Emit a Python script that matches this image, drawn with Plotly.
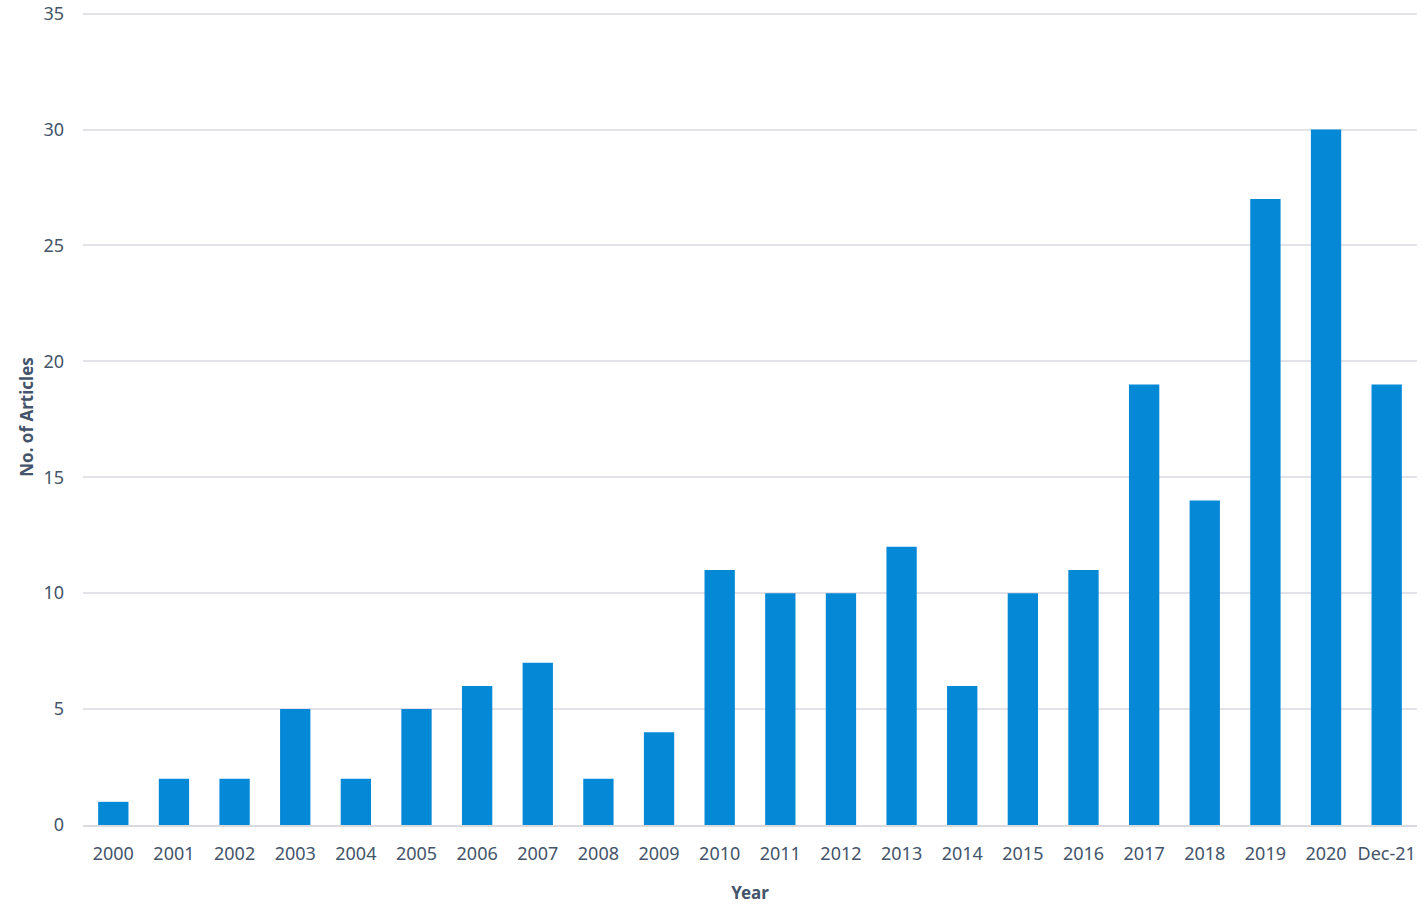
import plotly.graph_objects as go

years = ["2000", "2001", "2002", "2003", "2004", "2005", "2006", "2007", "2008", "2009",
         "2010", "2011", "2012", "2013", "2014", "2015", "2016", "2017", "2018", "2019",
         "2020", "Dec-21"]
articles = [1, 2, 2, 5, 2, 5, 6, 7, 2, 4, 11, 10, 10, 12, 6, 10, 11, 19, 14, 27, 30, 19]

y_ticks = [0, 5, 10, 15, 20, 25, 30, 35]

text_color = "#44546A"
font_family = "Noto Sans, sans-serif"

fig = go.Figure()
fig.add_trace(go.Bar(
    x=years,
    y=articles,
    marker=dict(color="#0588D6", line=dict(width=0)),
    width=0.5,
))

fig.update_layout(
    width=1423,
    height=913,
    paper_bgcolor="white",
    plot_bgcolor="white",
    margin=dict(l=83, r=6, t=9, b=88),
    showlegend=False,
    font=dict(family=font_family, size=18, color=text_color),
    xaxis=dict(
        title=dict(text="<b>Year</b>", font=dict(family=font_family, size=17, color=text_color), standoff=24),
        showgrid=False,
        showline=True,
        linecolor="#D9D9DE",
        linewidth=2,
        ticks="",
        ticklabelstandoff=11,
        automargin=False,
        tickfont=dict(family=font_family, size=18, color=text_color),
    ),
    yaxis=dict(
        title=dict(text="<b>No. of Articles</b>", font=dict(family=font_family, size=17, color=text_color), standoff=5),
        range=[0, 35.2],
        tickvals=y_ticks,
        showgrid=True,
        gridcolor="#E2E2E8",
        gridwidth=2,
        zeroline=False,
        ticks="",
        ticklabelstandoff=18,
        ticklabeloverflow="allow",
        automargin=False,
        tickfont=dict(family=font_family, size=18, color=text_color),
    ),
)

fig.write_html(
    "out.html",
    config={"displayModeBar": False},
    post_script="document.body.style.margin='0';document.body.style.padding='0';",
)
